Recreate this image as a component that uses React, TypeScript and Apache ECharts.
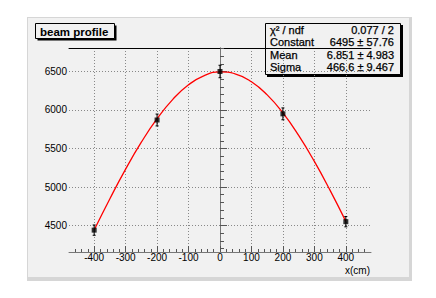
import React, { useEffect, useRef } from "react";
import * as echarts from "echarts";

// Data points (x in cm, counts) with errors
const pointX = [-400, -200, 0, 200, 400];
const pointY = [4440, 5870, 6500, 5950, 4550];
const pointErr = [67, 77, 81, 77, 67];

// Fitted curve values
const fitX = [-400, -350, -300, -250, -200, -150, -100, -50, 0, 50, 100, 150, 200, 250, 300, 350, 400];
const fitY = [4441, 4848, 5232, 5582, 5887, 6138, 6327, 6447, 6494, 6467, 6367, 6196, 5962, 5670, 5332, 4956, 4554];

// Axis ticks
const majorX = [-400, -300, -200, -100, 0, 100, 200, 300, 400];
const minorX = [-460, -440, -420, -380, -360, -340, -320, -280, -260, -240, -220, -180, -160, -140, -120, -80, -60, -40, -20, 20, 40, 60, 80, 120, 140, 160, 180, 220, 240, 260, 280, 320, 340, 360, 380, 420, 440, 460];
const majorY = [4500, 5000, 5500, 6000, 6500];
const minorY = [4200, 4300, 4400, 4600, 4700, 4800, 4900, 5100, 5200, 5300, 5400, 5600, 5700, 5800, 5900, 6100, 6200, 6300, 6400, 6600, 6700, 6800];

// Texts
const titleText = "beam profile";
const xAxisName = "x(cm)";
const statLabels = ["χ² / ndf", "Constant", "Mean", "Sigma"];
const statValues = ["0.077 / 2", "6495 ± 57.76", "6.851 ± 4.983", "466.6 ± 9.467"];

const FONT = "'Liberation Sans', Arial, Helvetica, sans-serif";
const BG = "#f1f1f1";

export default function App() {
  const ref = useRef<HTMLDivElement>(null);

  useEffect(() => {
    if (!ref.current) return;
    const chart = echarts.init(ref.current, undefined, { renderer: "svg" });

    const gridBox = { left: 69, top: 48, width: 302, height: 204 };
    const xMin = -480, xMax = 480, yMin = 4156, yMax = 6805;
    const plain = (v: number) => String(v);

    const statChildren: any[] = [
      { type: "rect", shape: { x: 267, y: 25, width: 136, height: 52 }, style: { fill: "#000" } },
      { type: "rect", shape: { x: 265.5, y: 23.5, width: 135, height: 51 }, style: { fill: BG, stroke: "#000", lineWidth: 1 } },
    ];
    const rowY = [30, 42, 54.5, 67];
    statLabels.forEach((l, i) => {
      statChildren.push({
        type: "text",
        style: { text: l, x: 270, y: rowY[i], fill: "#000", font: `11px ${FONT}`, textAlign: "left", textVerticalAlign: "middle", verticalAlign: "middle", stroke: "#000", lineWidth: 0.25 },
      });
      statChildren.push({
        type: "text",
        style: { text: statValues[i], x: 394, y: rowY[i], fill: "#000", font: `11px ${FONT}`, textAlign: "right", textVerticalAlign: "middle", verticalAlign: "middle", stroke: "#000", lineWidth: 0.25 },
      });
    });

    const option: any = {
      animation: false,
      backgroundColor: "#ffffff",
      textStyle: { fontFamily: FONT },
      grid: [
        { ...gridBox, show: false },
        { ...gridBox, show: false },
      ],
      xAxis: [
        {
          type: "value", gridIndex: 0, position: "bottom", min: xMin, max: xMax,
          axisLine: { show: true, lineStyle: { color: "#777", width: 1 } },
          axisTick: { show: true, inside: true, length: 6, customValues: majorX, lineStyle: { color: "#555" } },
          axisLabel: { show: true, customValues: majorX, formatter: plain, fontSize: 10, color: "#000", margin: 0, fontFamily: FONT },
          splitLine: { show: true, lineStyle: { color: "#888", type: [1, 2], width: 1 } },
        },
        {
          type: "value", gridIndex: 1, position: "bottom", min: xMin, max: xMax,
          axisLine: { show: false },
          axisTick: { show: true, inside: true, length: 3, customValues: minorX, lineStyle: { color: "#555" } },
          axisLabel: { show: false },
          splitLine: { show: false },
        },
        {
          type: "value", gridIndex: 0, position: "top", min: xMin, max: xMax,
          axisLine: { show: true, lineStyle: { color: "#000", width: 1 } },
          axisTick: { show: false }, axisLabel: { show: false }, splitLine: { show: false },
        },
      ],
      yAxis: [
        {
          type: "value", gridIndex: 0, position: "left", min: yMin, max: yMax,
          axisLine: { show: true, lineStyle: { color: "#777", width: 1 } },
          axisTick: { show: true, inside: true, length: 7, customValues: majorY, lineStyle: { color: "#555" } },
          axisLabel: { show: true, customValues: majorY, formatter: plain, fontSize: 10, color: "#000", margin: 2, fontFamily: FONT },
          splitLine: { show: true, lineStyle: { color: "#888", type: [1, 2], width: 1 } },
        },
        {
          type: "value", gridIndex: 1, position: "left", min: yMin, max: yMax,
          axisLine: { show: false },
          axisTick: { show: true, inside: true, length: 4, customValues: minorY, lineStyle: { color: "#555" } },
          axisLabel: { show: false },
          splitLine: { show: false },
        },
        {
          type: "value", gridIndex: 0, position: "right", min: yMin, max: yMax,
          axisLine: { show: true, lineStyle: { color: "#777", width: 1 } },
          axisTick: { show: false }, axisLabel: { show: false }, splitLine: { show: false },
        },
      ],
      graphic: [
        // pad background with bevel
        { type: "rect", z: -10, shape: { x: 27, y: 17, width: 385, height: 264 }, style: { fill: "#d6d6d6" } },
        { type: "rect", z: -9, shape: { x: 28, y: 18, width: 381, height: 259 }, style: { fill: BG } },
        // title box
        {
          type: "group", z: 50,
          children: [
            { type: "rect", shape: { x: 37.5, y: 25.5, width: 79, height: 15 }, style: { fill: "#000" } },
            { type: "rect", shape: { x: 35.5, y: 23.5, width: 79, height: 15 }, style: { fill: BG, stroke: "#000", lineWidth: 1 } },
            { type: "text", style: { text: titleText, x: 40, y: 31.5, fill: "#000", font: `bold 11.5px ${FONT}`, textAlign: "left", textVerticalAlign: "middle", verticalAlign: "middle" } },
          ],
        },
        // stats box
        { type: "group", z: 100, children: statChildren },
        // x axis name
        { type: "text", z: 50, style: { text: xAxisName, x: 370, y: 270, fill: "#000", font: `10px ${FONT}`, textAlign: "right", textVerticalAlign: "middle", verticalAlign: "middle" } },
      ],
      series: [
        {
          type: "line", name: "fit", xAxisIndex: 0, yAxisIndex: 0,
          data: fitX.map((x, i) => [x, fitY[i]]),
          smooth: true, showSymbol: false, symbol: "none",
          lineStyle: { color: "#ff0000", width: 1.3 }, z: 3,
        },
        {
          type: "custom", name: "errors", xAxisIndex: 0, yAxisIndex: 0,
          data: pointX.map((x, i) => [x, pointY[i], pointErr[i]]),
          renderItem: (params: any, api: any) => {
            const x = api.value(0), y = api.value(1), e = api.value(2);
            const top = api.coord([x, y + e]);
            const bot = api.coord([x, y - e]);
            const st = { stroke: "#000", lineWidth: 1 };
            return {
              type: "group",
              children: [
                { type: "line", shape: { x1: top[0], y1: top[1], x2: bot[0], y2: bot[1] }, style: st },
                { type: "line", shape: { x1: top[0] - 1.5, y1: top[1], x2: top[0] + 1.5, y2: top[1] }, style: st },
                { type: "line", shape: { x1: bot[0] - 1.5, y1: bot[1], x2: bot[0] + 1.5, y2: bot[1] }, style: st },
              ],
            };
          },
          z: 4,
        },
        {
          type: "scatter", name: "points", xAxisIndex: 0, yAxisIndex: 0,
          data: pointX.map((x, i) => [x, pointY[i]]),
          symbol: "rect", symbolSize: 5,
          itemStyle: { color: "#000" }, z: 5,
        },
      ],
    };

    chart.setOption(option);
    return () => chart.dispose();
  }, []);

  return <div ref={ref} style={{ position: "fixed", left: 0, top: 0, width: 436, height: 298 }} />;
}
